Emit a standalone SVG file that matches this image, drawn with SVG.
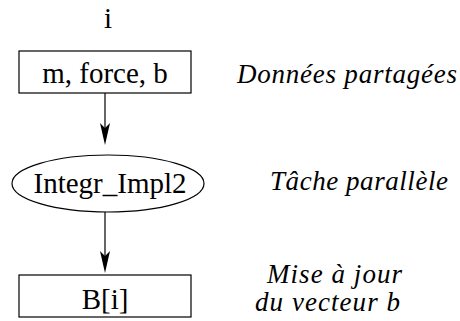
<svg xmlns="http://www.w3.org/2000/svg" width="460" height="321" viewBox="0 0 460 321">
<style>
.shape{fill:#fff;stroke:#000;stroke-width:1.2}
.lbl{font-family:"Liberation Serif","Times New Roman",serif;font-size:29px;fill:#000;text-anchor:middle}
.note{font-family:"Liberation Serif","Times New Roman",serif;font-style:italic;font-size:27px;fill:#000}
.edge{stroke:#000;stroke-width:1.2;fill:none}
.head{fill:#000;stroke:none}
</style>
<rect width="460" height="321" fill="#fff"/>
<g id="index"><text class="lbl" x="108" y="28">i</text></g>
<g id="connectors">
<line class="edge" x1="105" y1="93" x2="105" y2="130"/>
<path class="head" d="M105,145 L100,123 L105,128 L110,123 Z"/>
<line class="edge" x1="105" y1="212" x2="105" y2="258"/>
<path class="head" d="M105,273 L100,251 L105,256 L110,251 Z"/>
</g>
<g id="shared-data">
<rect class="shape" x="19" y="51" width="172" height="42"/>
<text class="lbl" x="105" y="82.5">m, force, b</text>
</g>
<g id="task">
<ellipse class="shape" cx="108" cy="183.5" rx="96" ry="28.5"/>
<text class="lbl" x="110" y="193">Integr_Impl2</text>
</g>
<g id="result">
<rect class="shape" x="19" y="275" width="172" height="42"/>
<text class="lbl" x="105" y="309">B[i]</text>
</g>
<g id="notes">
<text class="note" x="237" y="83" textLength="220" lengthAdjust="spacing">Données partagées</text>
<text class="note" x="270" y="190" textLength="178" lengthAdjust="spacing">Tâche parallèle</text>
<text class="note" x="267" y="283" textLength="135" lengthAdjust="spacing">Mise à jour</text>
<text class="note" x="255" y="311" textLength="145" lengthAdjust="spacing">du vecteur b</text>
</g>
</svg>
